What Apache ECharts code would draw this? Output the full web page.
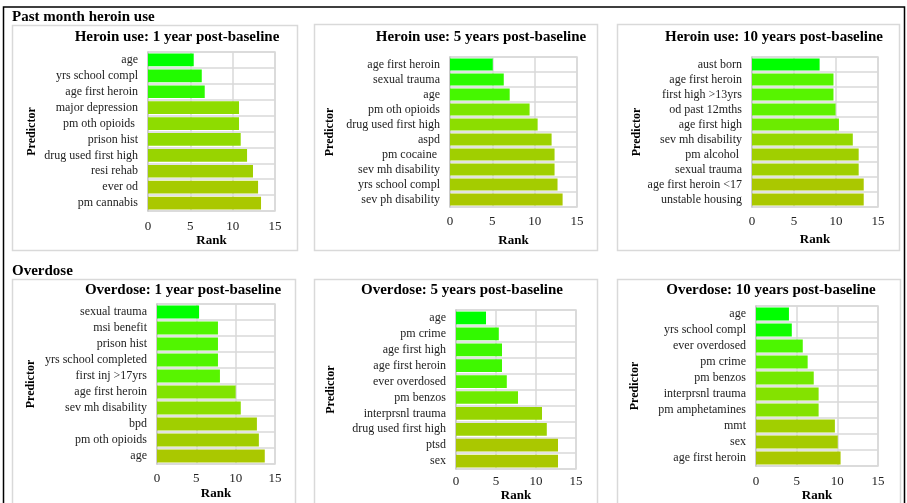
<!DOCTYPE html>
<html>
<head>
<meta charset="utf-8">
<script src="https://cdn.jsdelivr.net/npm/echarts@6/dist/echarts.min.js"></script>
<style>
  html, body { margin: 0; padding: 0; background: #fff; }
  #chart { width: 907px; height: 503px; }
</style>
</head>
<body>
<div id="chart"></div>
<script>
// Predictor rankings, listed top to bottom as drawn
const heroin1Labels = ['age', 'yrs school compl', 'age first heroin', 'major depression', 'pm oth opioids ', 'prison hist', 'drug used first high', 'resi rehab', 'ever od', 'pm cannabis'];
const heroin1Ranks  = [5.4, 6.35, 6.7, 10.75, 10.75, 10.95, 11.7, 12.4, 13.0, 13.35];

const heroin5Labels = ['age first heroin', 'sexual trauma', 'age', 'pm oth opioids', 'drug used first high', 'aspd', 'pm cocaine ', 'sev mh disability', 'yrs school compl', 'sev ph disability'];
const heroin5Ranks  = [5.05, 6.35, 7.05, 9.4, 10.35, 12.0, 12.35, 12.35, 12.7, 13.3];

const heroin10Labels = ['aust born', 'age first heroin', 'first high >13yrs', 'od past 12mths', 'age first high', 'sev mh disability', 'pm alcohol ', 'sexual trauma', 'age first heroin <17', 'unstable housing'];
const heroin10Ranks  = [8.05, 9.7, 9.7, 9.95, 10.35, 12.0, 12.7, 12.7, 13.3, 13.3];

const od1Labels = ['sexual trauma', 'msi benefit', 'prison hist', 'yrs school completed', 'first inj >17yrs', 'age first heroin', 'sev mh disability', 'bpd', 'pm oth opioids', 'age'];
const od1Ranks  = [5.35, 7.75, 7.75, 7.75, 8.0, 10.0, 10.65, 12.7, 12.95, 13.7];

const od5Labels = ['age', 'pm crime', 'age first high', 'age first heroin', 'ever overdosed', 'pm benzos', 'interprsnl trauma', 'drug used first high', 'ptsd', 'sex'];
const od5Ranks  = [3.75, 5.35, 5.75, 5.75, 6.35, 7.75, 10.75, 11.35, 12.75, 12.75];

const od10Labels = ['age', 'yrs school compl', 'ever overdosed', 'pm crime', 'pm benzos', 'interprsnl trauma', 'pm amphetamines', 'mmt', 'sex', 'age first heroin'];
const od10Ranks  = [4.05, 4.4, 5.75, 6.35, 7.1, 7.7, 7.7, 9.7, 10.05, 10.4];

const sectionHeadings = ['Past month heroin use', 'Overdose'];
const panelTitles = [
  'Heroin use: 1 year post-baseline', 'Heroin use: 5 years post-baseline', 'Heroin use: 10 years post-baseline',
  'Overdose: 1 year post-baseline', 'Overdose: 5 years post-baseline', 'Overdose: 10 years post-baseline'
];
const rankTicks = [0, 5, 10, 15];

const panels = [
  { labels: heroin1Labels,  ranks: heroin1Ranks },
  { labels: heroin5Labels,  ranks: heroin5Ranks },
  { labels: heroin10Labels, ranks: heroin10Ranks },
  { labels: od1Labels,      ranks: od1Ranks },
  { labels: od5Labels,      ranks: od5Ranks },
  { labels: od10Labels,     ranks: od10Ranks }
];

// Layout of each panel: frame box, plot grid, title centre, axis-name gaps
const layout = [
  { box: [12, 25, 285, 225],  grid: [148, 52, 127, 159], title: [177, 37],  tickMargin: 9, rankGap: 21, predGap: 110 },
  { box: [314, 24, 283, 226], grid: [450, 57, 127, 150], title: [481, 37],  tickMargin: 8, rankGap: 27, predGap: 114 },
  { box: [617, 24, 282, 226], grid: [752, 57, 126, 150], title: [774, 37],  tickMargin: 8, rankGap: 26, predGap: 109 },
  { box: [12, 279, 283, 240], grid: [157, 304, 118, 160], title: [183, 290], tickMargin: 8, rankGap: 23, predGap: 120 },
  { box: [314, 279, 283, 240],grid: [456, 310, 120, 162], title: [462, 290], tickMargin: 6, rankGap: 14, predGap: 119 },
  { box: [617, 279, 283, 240],grid: [756, 306, 122, 160], title: [771, 290], tickMargin: 9, rankGap: 22, predGap: 115 }
];

const SERIF = '"Liberation Serif", "Times New Roman", serif';
const GRID_LINE = '#d9d9d9';

// Green -> yellow-green ramp, scaled to each panel's own rank range
const ramp = [[0, [0, 255, 0]], [0.3, [85, 245, 0]], [0.6, [136, 224, 0]], [1, [170, 200, 0]]];
function rampColor(t) {
  t = Math.max(0, Math.min(1, t));
  for (let i = 1; i < ramp.length; i++) {
    if (t <= ramp[i][0]) {
      const [t0, c0] = ramp[i - 1], [t1, c1] = ramp[i];
      const f = (t - t0) / (t1 - t0);
      const c = c0.map((v, k) => Math.round(v + (c1[k] - v) * f));
      return 'rgb(' + c.join(',') + ')';
    }
  }
  return 'rgb(' + ramp[ramp.length - 1][1].join(',') + ')';
}

const grids = [], xAxes = [], yAxes = [], series = [], graphics = [];

// Outer figure frame
graphics.push({
  type: 'rect', silent: true, z: -1,
  shape: { x: 3.5, y: 7, width: 901, height: 520 },
  style: { fill: null, stroke: '#000', lineWidth: 1.5 }
});

sectionHeadings.forEach((txt, i) => {
  graphics.push({
    type: 'text', silent: true, z: 5,
    style: {
      x: 12, y: i === 0 ? 17 : 271, text: txt,
      font: 'bold 15px ' + SERIF, fill: '#000',
      textAlign: 'left', textVerticalAlign: 'middle'
    }
  });
});

panels.forEach((p, i) => {
  const L = layout[i];
  const lo = Math.min(...p.ranks), hi = Math.max(...p.ranks);

  graphics.push({
    type: 'rect', silent: true, z: -1,
    shape: { x: L.box[0] + 0.5, y: L.box[1] + 0.5, width: L.box[2], height: L.box[3] },
    style: { fill: null, stroke: GRID_LINE, lineWidth: 1.5 }
  });
  graphics.push({
    type: 'text', silent: true, z: 5,
    style: {
      x: L.title[0], y: L.title[1], text: panelTitles[i],
      font: 'bold 15px ' + SERIF, fill: '#000',
      textAlign: 'center', textVerticalAlign: 'middle'
    }
  });

  grids.push({
    left: L.grid[0], top: L.grid[1], width: L.grid[2], height: L.grid[3],
    show: true, borderColor: GRID_LINE, borderWidth: 1.5, backgroundColor: 'transparent',
    containLabel: false
  });

  xAxes.push({
    gridIndex: i, type: 'value', min: rankTicks[0], max: rankTicks[rankTicks.length - 1],
    interval: rankTicks[1] - rankTicks[0],
    axisLine: { show: false }, axisTick: { show: false },
    splitLine: { show: true, lineStyle: { color: GRID_LINE, width: 1.5 } },
    axisLabel: { margin: L.tickMargin, fontFamily: SERIF, fontSize: 13, color: '#222' },
    name: 'Rank', nameLocation: 'middle', nameGap: L.rankGap,
    nameTextStyle: { fontFamily: SERIF, fontWeight: 'bold', fontSize: 13, color: '#000' }
  });

  yAxes.push({
    gridIndex: i, type: 'category', inverse: true, data: p.labels,
    axisLine: { show: true, lineStyle: { color: '#c8c8c8', width: 1.5 } },
    axisTick: { show: false },
    splitLine: { show: true, lineStyle: { color: GRID_LINE, width: 1.5 } },
    axisLabel: { margin: 10, fontFamily: SERIF, fontSize: 12, color: '#222', interval: 0 },
    name: 'Predictor', nameLocation: 'middle', nameGap: L.predGap, nameRotate: 90,
    nameTextStyle: { fontFamily: SERIF, fontWeight: 'bold', fontSize: 12, color: '#000' }
  });

  series.push({
    type: 'bar', xAxisIndex: i, yAxisIndex: i,
    data: p.ranks, barCategoryGap: '20%', z: 3,
    itemStyle: { color: params => rampColor((params.value - lo) / (hi - lo)) },
    animation: false
  });
});

const chart = echarts.init(document.getElementById('chart'), null, { renderer: 'canvas' });
chart.setOption({
  animation: false,
  backgroundColor: '#fff',
  grid: grids,
  xAxis: xAxes,
  yAxis: yAxes,
  series: series,
  graphic: graphics
});
</script>
</body>
</html>
